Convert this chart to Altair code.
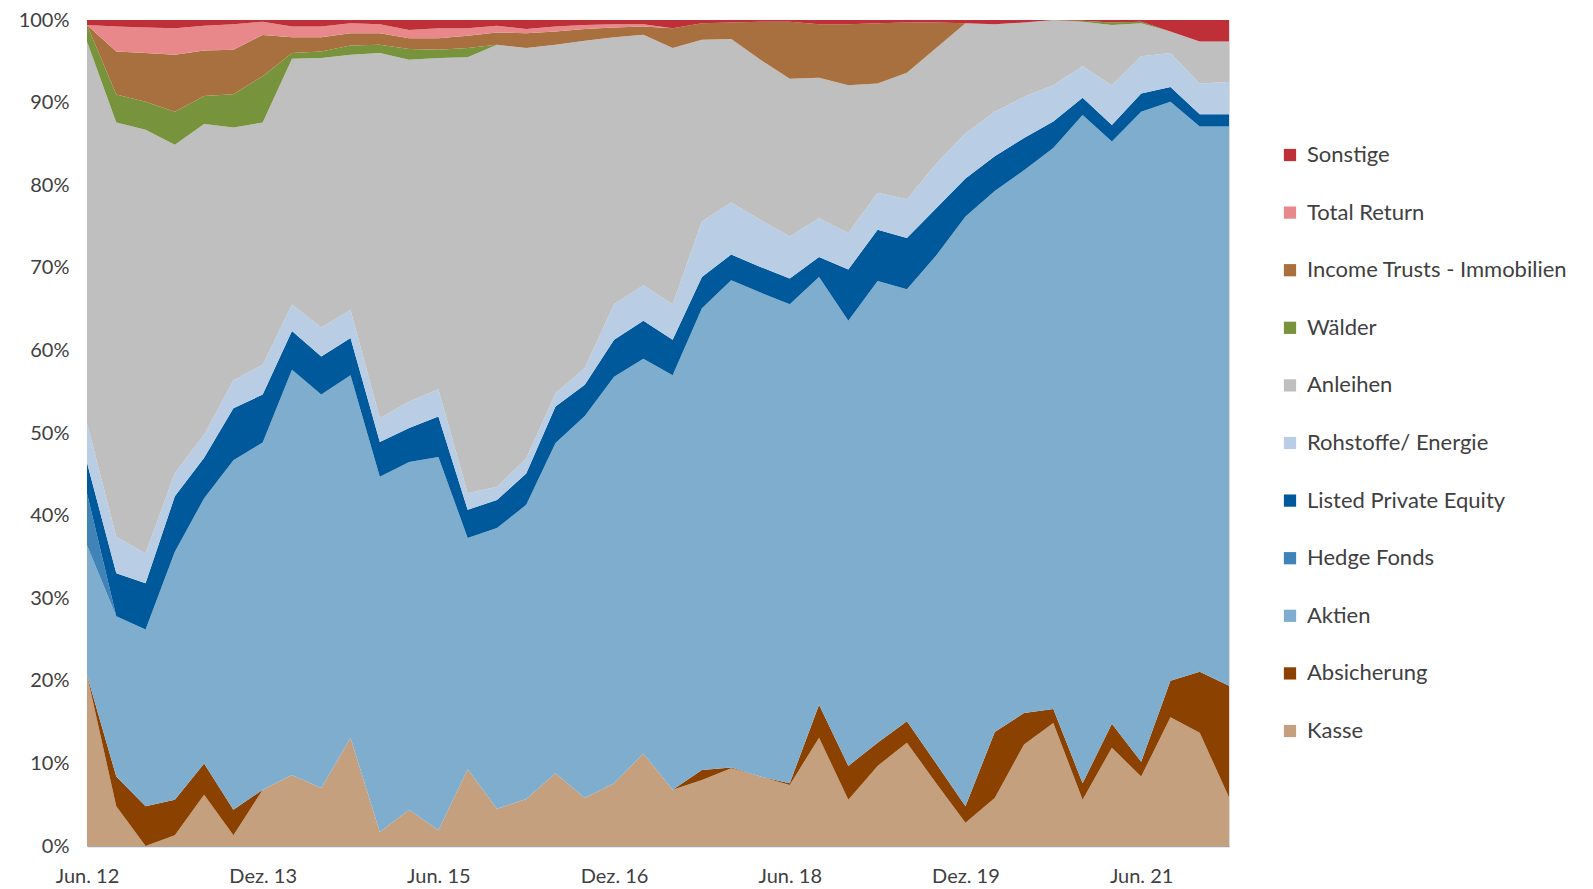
import altair as alt
import pandas as pd

quarters = []
months = ["Jun.", "Sep.", "Dez.", "Mär."]
for i in range(40):
    m = months[i % 4]
    yr = 12 + (i + 1) // 4
    quarters.append(f"{m} {yr:02d}")

tick_labels = ["Jun. 12", "Dez. 13", "Jun. 15", "Dez. 16", "Jun. 18", "Dez. 19", "Jun. 21"]

kasse = [20.7,4.8,0,1.3,6.2,1.3,6.8,8.6,7.0,13.1, 1.7,4.4,1.9,9.3,4.5,5.7,8.8,5.8,7.6,11.2,
         6.8,8.0,9.4,8.4,7.4,13.1,5.6,9.7,12.5,7.6, 2.8,5.8,12.3,14.9,5.6,11.9,8.4,15.6,13.7,5.9]
absicherung = [0,3.6,4.8,4.3,3.8,3.1,0,0,0,0, 0,0,0,0,0,0,0,0,0,0,
               0,1.2,0.1,0,0.2,4.0,4.1,2.8,2.6,2.4, 2.0,8.0,3.8,1.7,2.0,2.9,1.8,4.4,7.4,13.5]
aktien = [15.7,19.4,21.4,30.0,32.1,42.3,42.0,49.0,47.6,43.9, 43.0,42.1,45.2,28.0,34.0,35.6,40.0,46.2,49.2,47.8,
          50.2,55.9,59.0,58.6,58.0,51.8,53.9,55.9,52.3,61.5, 71.4,65.5,65.7,67.9,80.9,70.5,78.7,70.1,66.0,67.7]
hedge = [6.3,0,0,0,0,0,0,0,0,0, 0,0,0,0,0,0,0,0,0,0,
         0,0,0,0,0,0,0,0,0,0, 0,0,0,0,0,0,0,0,0,0]
lpe = [3.7,5.2,5.6,6.7,4.9,6.3,5.8,4.7,4.6,4.5, 4.2,4.1,4.9,3.4,3.4,3.8,4.4,3.8,4.5,4.6,
       4.3,3.8,3.1,3.1,3.1,2.4,6.2,6.2,6.2,5.7, 4.6,4.2,3.9,3.2,2.1,2.0,2.2,1.8,1.5,1.5]
rohstoffe = [4.8,4.4,3.6,2.8,2.8,3.4,3.6,3.2,3.5,3.4, 2.9,3.2,3.3,2.0,1.6,1.8,1.6,2.0,4.3,4.3,
             4.3,6.7,6.3,5.7,5.1,4.7,4.4,4.5,4.7,5.4, 5.5,5.4,5.0,4.4,3.8,4.8,4.5,4.1,3.7,3.9]
anleihen = [46.2,50.1,51.3,39.7,37.6,30.6,29.3,29.7,32.6,30.9, 44.2,41.4,40.1,52.8,53.5,49.7,42.2,39.6,32.3,30.3,
            31.0,22.0,19.8,19.4,19.1,17.0,17.9,13.2,15.3,14.0, 13.3,10.6,9.0,7.9,5.4,7.3,4.0,2.6,5.1,4.9]
waelder = [2.0,3.4,3.4,4.0,3.4,4.0,5.6,0.7,0.8,1.1, 1.0,1.3,1.0,1.1,0,0,0,0,0,0,
           0,0,0,0,0,0,0,0,0,0, 0,0,0,0,0.1,0.3,0.2,0,0,0]
income = [0,5.2,5.9,6.9,5.5,5.4,5.0,1.9,1.7,1.5, 1.4,1.3,1.4,1.5,1.5,1.8,1.6,1.4,1.2,1.0,
          2.4,2.0,2.0,4.6,6.9,6.5,7.4,7.3,6.1,3.1, 0,0,0,0,0,0,0,0,0,0]
total_return = [0,3.0,3.1,3.2,3.0,3.1,1.6,1.3,1.3,1.2, 1.1,1.0,1.2,0.9,0.8,0.5,0.6,0.5,0.4,0.3,
                0,0,0,0,0,0,0,0,0,0, 0,0,0,0,0,0,0,0,0,0]
sonstige = [0.6,0.8,0.9,1.0,0.7,0.5,0.2,0.8,0.8,0.4, 0.5,1.2,1.0,1.0,0.7,1.1,0.8,0.6,0.5,0.5,
            1.0,0.4,0.3,0.2,0.2,0.5,0.5,0.4,0.3,0.3, 0.4,0.5,0.3,0,0.1,0.3,0.2,1.4,2.6,2.6]

series_names = ["Kasse", "Absicherung", "Aktien", "Hedge Fonds", "Listed Private Equity",
                "Rohstoffe/ Energie", "Anleihen", "Wälder", "Income Trusts - Immobilien",
                "Total Return", "Sonstige"]
series_values = [kasse, absicherung, aktien, hedge, lpe, rohstoffe, anleihen, waelder,
                 income, total_return, sonstige]
series_colors = ["#C4A07F", "#8B4100", "#7FADCD", "#3F83B9", "#00599B", "#B9CDE5",
                 "#BFBFBF", "#77933C", "#A8703E", "#E8888B", "#BE2F38"]

rows = []
for k, (name, vals) in enumerate(zip(series_names, series_values)):
    for q, v in zip(quarters, vals):
        rows.append({"Quartal": q, "Kategorie": name, "Wert": v, "ord": k})
df = pd.DataFrame(rows)

legend_order = series_names[::-1]
legend_colors = series_colors[::-1]

FONT = "Lato"

chart = alt.Chart(df).mark_area(opacity=1).encode(
    x=alt.X("Quartal:N", sort=quarters,
            scale=alt.Scale(type="point", padding=0),
            axis=alt.Axis(values=tick_labels, labelAngle=0, title=None, ticks=False,
                          labelFontSize=20, labelColor="#404040", labelFont=FONT,
                          domainColor="#A6A6A6", domainWidth=1.5, labelPadding=20,
                          grid=False)),
    y=alt.Y("Wert:Q", stack="normalize",
            scale=alt.Scale(domain=[0, 1], nice=False),
            axis=alt.Axis(values=[i / 10 for i in range(11)], format=".0%", title=None,
                          ticks=False, domain=False, grid=False, labelFontSize=20,
                          labelColor="#404040", labelFont=FONT, labelPadding=18)),
    color=alt.Color("Kategorie:N",
                    scale=alt.Scale(domain=legend_order, range=legend_colors),
                    title=None,
                    legend=alt.Legend(orient="none", legendX=1192, legendY=124,
                                      symbolType="square", symbolSize=150,
                                      symbolStrokeWidth=0, labelFontSize=22,
                                      labelFont=FONT, labelColor="#404040",
                                      rowPadding=35.6, labelOffset=6, labelLimit=400)),
    order=alt.Order("ord:Q", sort="ascending"),
).properties(
    width=1142, height=826,
    autosize=alt.AutoSizeParams(type="none"),
    padding={"left": 79, "top": 12, "right": 356, "bottom": 50},
).configure_view(stroke=None).configure(background="white")

chart.save("out.html", embed_options={"renderer": "svg", "actions": False})
